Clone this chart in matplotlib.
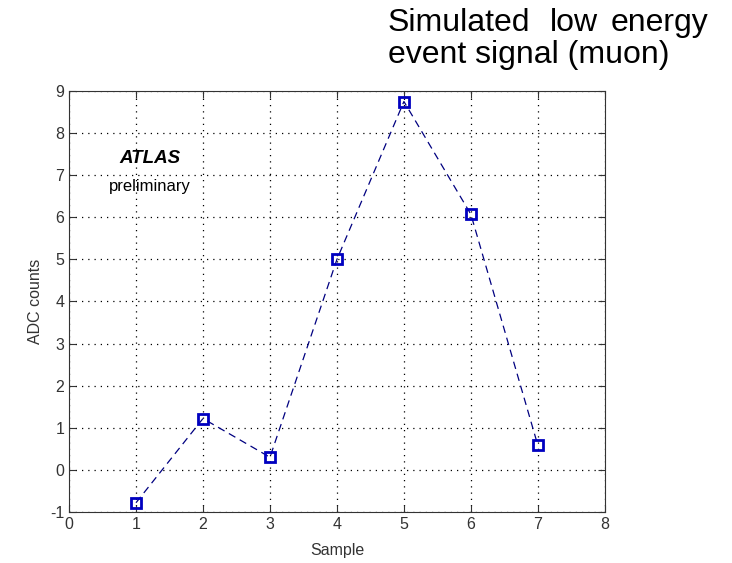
#!/usr/bin/env python3
import matplotlib
matplotlib.use('Agg')
import matplotlib.pyplot as plt

samples = [1, 2, 3, 4, 5, 6, 7]
adc_counts = [-0.78, 1.22, 0.3, 5.0, 8.75, 6.07, 0.58]
xticks = [0, 1, 2, 3, 4, 5, 6, 7, 8]
yticks = [-1, 0, 1, 2, 3, 4, 5, 6, 7, 8, 9]

plt.rcParams['font.family'] = ['Liberation Sans', 'DejaVu Sans']
plt.rcParams['axes.unicode_minus'] = False

fig = plt.figure(figsize=(7.32, 5.63), dpi=100)
ax = fig.add_axes([0.0943, 0.0906, 0.732, 0.7478])

ax.plot(samples, adc_counts, color='#000080', linestyle=(0, (6, 4)), linewidth=0.9,
        marker='s', markersize=7, markerfacecolor='none',
        markeredgecolor='#0000c0', markeredgewidth=2)

ax.set_xlim(0, 8)
ax.set_ylim(-1, 9)
ax.set_xticks(xticks)
ax.set_yticks(yticks)
ax.grid(color='black', linestyle=(0, (1, 4)), linewidth=0.9)
ax.tick_params(direction='in', top=True, right=True, length=5,
               labelsize=11.5, colors='#333333')
for s in ax.spines.values():
    s.set_color('#333333')

ax.set_xlabel('Sample', fontsize=11.5, color='#333333', labelpad=8)
ax.set_ylabel('ADC counts', fontsize=11.5, color='#333333', labelpad=5)

ax.text(0.151, 0.830, 'ATLAS', transform=ax.transAxes, ha='center', va='baseline',
        fontsize=13.5, fontweight='bold', fontstyle='italic')
ax.text(0.151, 0.763, 'preliminary', transform=ax.transAxes, ha='center', va='baseline',
        fontsize=12)

# first title line is justified, so place its words separately
fs = 23
fig.text(388/732, 1 - 31/563, 'Simulated', fontsize=fs, ha='left', va='baseline')
fig.text(550/732, 1 - 31/563, 'low', fontsize=fs, ha='left', va='baseline')
fig.text(708/732, 1 - 31/563, 'energy', fontsize=fs, ha='right', va='baseline')
fig.text(388/732, 1 - 63/563, 'event signal (muon)', fontsize=fs, ha='left', va='baseline')

fig.savefig('out.png', dpi=100)
